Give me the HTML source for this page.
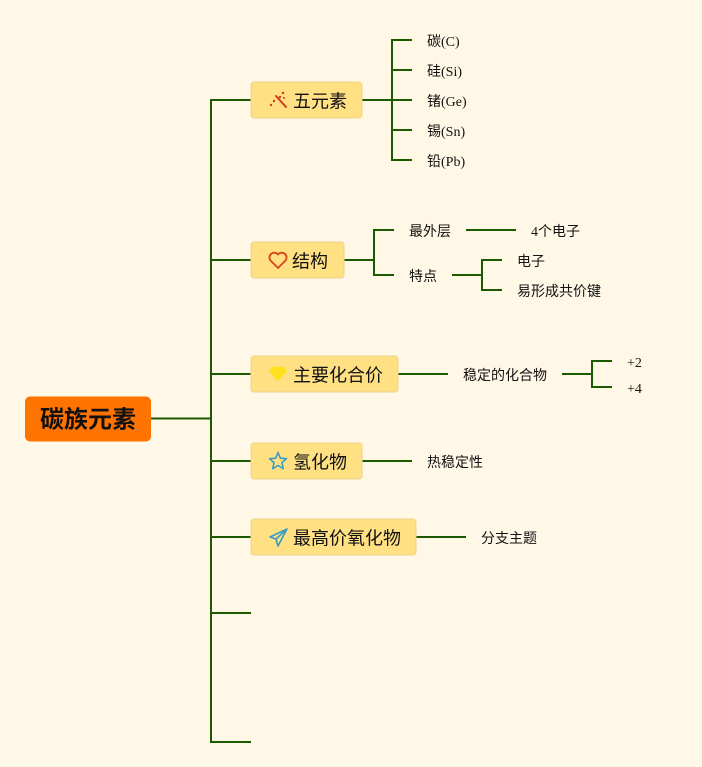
<!DOCTYPE html>
<html><head><meta charset="utf-8">
<style>
html,body{margin:0;padding:0;background:#FFF8E6;}
svg{display:block;}
.n{font-family:"Liberation Sans","Noto Sans CJK SC",sans-serif;font-size:18px;fill:#111;}
.l{font-family:"Liberation Serif","Noto Sans CJK SC",serif;font-size:14px;fill:#111;}
</style></head>
<body>
<svg width="702" height="767" viewBox="0 0 702 767" xmlns="http://www.w3.org/2000/svg">
<rect width="702" height="767" fill="#FFF8E6"/>
<g stroke="#1B5A00" stroke-width="2" fill="none">
  <path d="M151 418.5H211"/>
  <path d="M211 99V743"/>
  <path d="M210 100H251M211 260H251M211 374H251M211 461H251M211 537H251M211 613H251M210 742H251"/>
  <path d="M362 100H392M392 39V161M391 40H412M392 70H412M392 100H412M392 130H412M391 160H412"/>
  <path d="M344 260H374M374 229V276M373 230H394M373 275H394"/>
  <path d="M466 230H516"/>
  <path d="M452 275H482M482 259V291M481 260H502M481 290H502"/>
  <path d="M398 374H448M562 374H592M592 360V388M591 361H612M591 387H612"/>
  <path d="M362 461H412"/>
  <path d="M416 537H466"/>
</g>
<rect x="25" y="396.5" width="126" height="45" rx="5" fill="#FF7300"/>
<text x="88" y="420" text-anchor="middle" dominant-baseline="central" font-family="Liberation Sans,Noto Sans CJK SC,sans-serif" font-size="24" font-weight="bold" fill="#111">碳族元素</text>
<g fill="#FFE083" stroke="#EFD38E" stroke-width="1">
  <rect x="251" y="82" width="111" height="36" rx="3"/>
  <rect x="251" y="242" width="93" height="36" rx="3"/>
  <rect x="251" y="356" width="147" height="36" rx="3"/>
  <rect x="251" y="443" width="111" height="36" rx="3"/>
  <rect x="251" y="519" width="165" height="36" rx="3"/>
</g>
<text class="n" x="293" y="101.5" dominant-baseline="central">五元素</text>
<text class="n" x="292" y="261.5" dominant-baseline="central">结构</text>
<text class="n" x="293" y="375.5" dominant-baseline="central">主要化合价</text>
<text class="n" x="293" y="462.5" dominant-baseline="central">氢化物</text>
<text class="n" x="293" y="538.5" dominant-baseline="central">最高价氧化物</text>
<g stroke="#D03A1A" stroke-width="2" stroke-linecap="round">
  <path d="M276 96L286 107"/>
</g>
<g fill="#D03A1A">
  <circle cx="283" cy="93" r="1.2"/><circle cx="280" cy="97" r="1.2"/><circle cx="274" cy="101" r="1.2"/><circle cx="271" cy="105" r="1.2"/><circle cx="284" cy="98" r="1"/>
</g>
<path d="M278 268 L270.5 260.5 A4 4 0 0 1 278 254.5 A4 4 0 0 1 285.5 260.5 Z" fill="none" stroke="#D8401A" stroke-width="1.8" stroke-linejoin="round"/>
<path d="M272 367H284L287 371L278 381L269 371Z" fill="#FFE11A"/>
<path d="M278 452.5L280.4 458.2L286.5 458.7L281.9 462.7L283.3 468.7L278 465.5L272.7 468.7L274.1 462.7L269.5 458.7L275.6 458.2Z" fill="none" stroke="#3A9CC0" stroke-width="1.6" stroke-linejoin="round"/>
<path d="M287 529L270 537L276 539L278 546L287 529ZM276 539L287 529" fill="none" stroke="#3A9CC0" stroke-width="1.6" stroke-linejoin="round"/>
<g class="l">
  <text class="l" x="427" y="42.5" dominant-baseline="central">碳(C)</text>
  <text class="l" x="427" y="72.5" dominant-baseline="central">硅(Si)</text>
  <text class="l" x="427" y="102.5" dominant-baseline="central">锗(Ge)</text>
  <text class="l" x="427" y="132.5" dominant-baseline="central">锡(Sn)</text>
  <text class="l" x="427" y="162.5" dominant-baseline="central">铅(Pb)</text>
  <text class="l" x="409" y="232.5" dominant-baseline="central">最外层</text>
  <text class="l" x="531" y="232.5" dominant-baseline="central">4个电子</text>
  <text class="l" x="409" y="277.5" dominant-baseline="central">特点</text>
  <text class="l" x="517" y="262.5" dominant-baseline="central">电子</text>
  <text class="l" x="517" y="292.5" dominant-baseline="central">易形成共价键</text>
  <text class="l" x="463" y="376.5" dominant-baseline="central">稳定的化合物</text>
  <text class="l" x="627" y="363.5" dominant-baseline="central">+2</text>
  <text class="l" x="627" y="389.5" dominant-baseline="central">+4</text>
  <text class="l" x="427" y="463.5" dominant-baseline="central">热稳定性</text>
  <text class="l" x="481" y="539.5" dominant-baseline="central">分支主题</text>
</g>
</svg>
</body></html>
